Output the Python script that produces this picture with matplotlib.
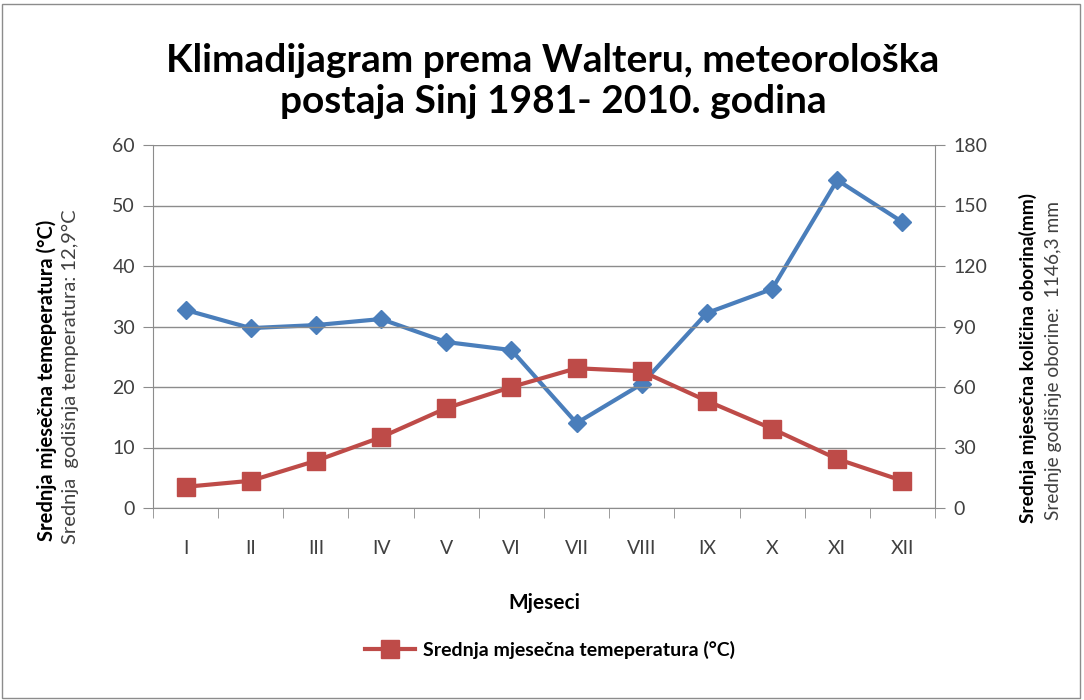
import matplotlib
matplotlib.use("Agg")
import matplotlib.pyplot as plt
import numpy as np
from matplotlib.patches import Rectangle

months = ["I", "II", "III", "IV", "V", "VI", "VII", "VIII", "IX", "X", "XI", "XII"]
temperature = [3.5, 4.5, 7.8, 11.7, 16.5, 20.0, 23.1, 22.6, 17.7, 13.1, 8.1, 4.5]
precipitation = [98.2, 89.2, 90.7, 93.7, 82.3, 78.3, 42.1, 61.5, 96.7, 108.6, 162.6, 141.8]

plt.rcParams['font.family'] = ['Lato', 'DejaVu Sans']

RED = "#BE4B48"
BLUE = "#4A7EBB"
GRID = "#8C8C8C"
TXT = "#404040"

fig = plt.figure(figsize=(10.84, 7.0), dpi=100)
ax = fig.add_axes([153/1084, 1-508/700, (935-153)/1084, (508-145)/700])
ax2 = ax.twinx()

x = np.arange(len(months))
ax.plot(x, temperature, color=RED, lw=3, marker='s', ms=12.5, mec=RED, mfc=RED,
        label="Srednja mjesečna temeperatura (°C)", zorder=3)
ax2.plot(x, precipitation, color=BLUE, lw=3, marker='D', ms=9, mec=BLUE, mfc=BLUE, zorder=3)

ax.set_zorder(2)
ax.patch.set_visible(False)

ax.set_xlim(-0.5, 11.5)
ax.set_ylim(0, 60)
ax2.set_ylim(0, 180)
ax.set_yticks(np.arange(0, 61, 10))
ax2.set_yticks(np.arange(0, 181, 30))
ax.set_xticks(x)
ax.set_xticklabels(months)
ax.set_xticks(np.arange(-0.5, 12, 1), minor=True)
ax.tick_params(axis='x', which='major', length=0, pad=23, labelsize=14, labelcolor=TXT)
ax.tick_params(axis='x', which='minor', length=7, color=GRID, direction='out')
ax.tick_params(axis='y', length=7, color=GRID, labelsize=14, labelcolor=TXT, pad=6)
ax2.tick_params(axis='y', length=7, color=GRID, labelsize=14, labelcolor=TXT, pad=6)

ax.yaxis.grid(True, color=GRID, lw=1.0)
ax.set_axisbelow(True)
for a in (ax, ax2):
    for s in a.spines.values():
        s.set_color(GRID)
    a.spines['top'].set_visible(False)
ax.spines['right'].set_visible(False)
ax2.spines['left'].set_visible(False)
ax2.spines['bottom'].set_visible(False)

ax.set_xlabel("Mjeseci", fontsize=15, fontweight='bold', labelpad=26)

fig.text(47/1084, 1-380/700, "Srednja mjesečna temeperatura (°C)", rotation=90,
         ha='center', va='center', fontsize=14.5, fontweight='bold')
fig.text(70/1084, 1-377/700, "Srednja  godišnja temperatura: 12,9°C", rotation=90,
         ha='center', va='center', fontsize=14.5, color=TXT)
fig.text(1028/1084, 1-358/700, "Srednja mjesečna količina oborina(mm)", rotation=90,
         ha='center', va='center', fontsize=13.8, fontweight='bold')
fig.text(1053/1084, 1-360/700, "Srednje godišnje oborine:  1146,3 mm", rotation=90,
         ha='center', va='center', fontsize=13.8, color=TXT)

fig.text(553/1084, 1-81/700, "Klimadijagram prema Walteru, meteorološka\npostaja Sinj 1981- 2010. godina",
         ha='center', va='center', fontsize=28, fontweight='bold', linespacing=1.2)

leg = fig.legend(loc='center', bbox_to_anchor=(550/1084, 1-650/700), frameon=False,
                 fontsize=14, handlelength=2.6, handletextpad=0.4, markerscale=1.0,
                 prop={'weight': 'bold', 'size': 14})

fig.patches.append(Rectangle((2/1084, 2/700), 1078/1084, 694/700, transform=fig.transFigure,
                             fill=False, ec="#8C8C8C", lw=1))

fig.savefig("out.png", dpi=100)
